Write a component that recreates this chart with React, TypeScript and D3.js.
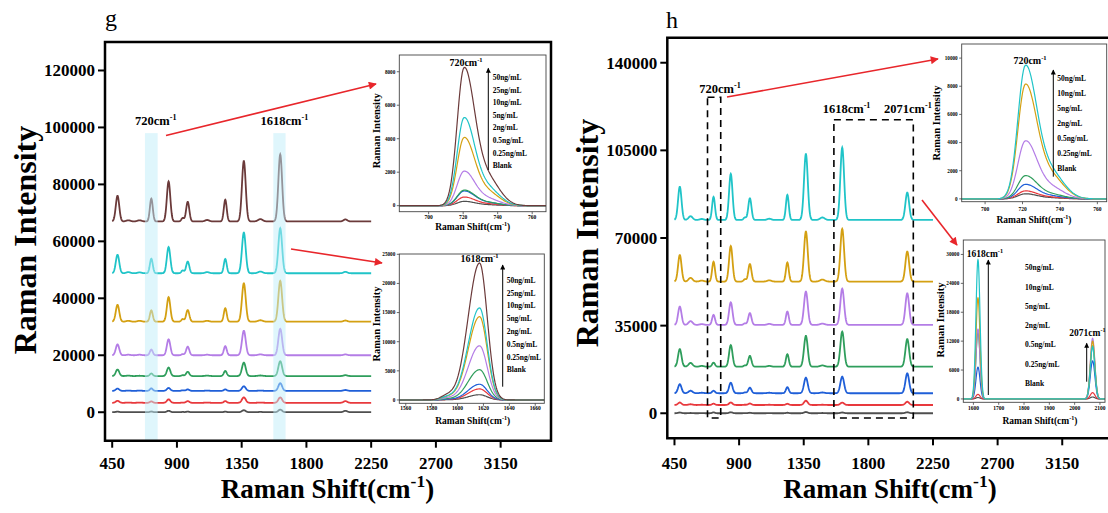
import React from "react";
import * as d3 from "d3";

const FONT = "'Liberation Serif','Times New Roman',Times,serif";

// ---------------- data ----------------
const leftLabels = ["50ng/mL", "25ng/mL", "10ng/mL", "5ng/mL", "2ng/mL", "0.5ng/mL", "0.25ng/mL", "Blank"];
const rightLabels = ["50ng/mL", "10ng/mL", "5ng/mL", "2ng/mL", "0.5ng/mL", "0.25ng/mL", "Blank"];
const leftColors = ["#6b3a3a", "#20c4c8", "#d4a012", "#b47de6", "#2f9e5c", "#1f5fd8", "#e8393d", "#4f4f4f"];
const rightColors = ["#20c4c8", "#d4a012", "#b47de6", "#2f9e5c", "#1f5fd8", "#e8393d", "#4f4f4f"];

// Raman band centres (cm-1) and widths
const peakCenters = [487, 562, 640, 722, 842, 940, 975, 1110, 1236, 1365, 1480, 1618, 2071];
const peakSigmas = [12, 14, 14, 10, 12, 9, 11, 14, 10, 13, 16, 13, 13];

// panel g : vertical offsets and peak heights of each concentration
const leftOffsets = [67000, 48800, 31800, 20000, 12700, 7500, 3300, 0];
const leftPeaks = [
  [9000, 400, 400, 8000, 14000, 1200, 6900, 500, 7600, 21200, 800, 23500, 700],
  [6500, 400, 300, 5100, 9200, 1000, 4100, 400, 5000, 14300, 600, 15800, 500],
  [5900, 300, 300, 3950, 8600, 900, 4100, 300, 4700, 13500, 500, 14300, 400],
  [3800, 200, 200, 2000, 5600, 400, 3000, 200, 3200, 8600, 300, 9300, 300],
  [2300, 150, 100, 900, 3000, 300, 1500, 150, 1800, 4700, 200, 5200, 300],
  [800, 100, 100, 850, 1000, 200, 500, 100, 500, 1600, 100, 2700, 300],
  [700, 100, 100, 500, 1200, 100, 600, 100, 600, 1900, 100, 1900, 600],
  [200, 50, 50, 250, 500, 100, 200, 50, 200, 700, 100, 900, 500],
];

// panel h
const rightOffsets = [77200, 52600, 35300, 18600, 8000, 3300, 0];
const rightPeaks = [
  [13300, 1500, 400, 9200, 18400, 1000, 8700, 500, 10000, 26400, 1000, 28900, 10900],
  [10600, 1500, 400, 7900, 14200, 900, 7000, 500, 7600, 20000, 800, 21000, 12000],
  [7300, 1500, 300, 4000, 9000, 600, 4700, 400, 5300, 13300, 500, 14500, 12600],
  [7000, 1500, 300, 1600, 8600, 500, 4300, 300, 5000, 12300, 500, 14000, 11000],
  [3600, 1000, 200, 1000, 4200, 300, 2200, 200, 2400, 6200, 300, 6600, 7900],
  [1000, 300, 100, 550, 1000, 100, 600, 100, 500, 1700, 100, 950, 1300],
  [300, 100, 50, 350, 400, 50, 200, 50, 200, 500, 100, 300, 400],
];

// band profile used in the zoomed insets (centre, left width, right width, relative height)
const band720Centers = [720.5, 734];
const band720SigL = [4, 7];
const band720SigR = [6, 7];
const band720Rel = [1, 0.2];
const band1618Centers = [1617, 1592];
const band1618SigL = [8.8, 5];
const band1618SigR = [5.9, 5];
const band1618Rel = [1, 0.03];

const xTicksMain = [450, 900, 1350, 1800, 2250, 2700, 3150];
const yTicksLeft = [0, 20000, 40000, 60000, 80000, 100000, 120000];
const yTicksRight = [0, 35000, 70000, 105000, 140000];
const insL1X = [700, 720, 740, 760];
const insL1Y = [0, 2000, 4000, 6000, 8000];
const insL2X = [1560, 1580, 1600, 1620, 1640, 1660];
const insL2Y = [0, 5000, 10000, 15000, 20000, 25000];
const insR1X = [700, 720, 740, 760];
const insR1Y = [0, 2000, 4000, 6000, 8000, 10000];
const insR2X = [1600, 1700, 1800, 1900, 2000, 2100];
const insR2Y = [0, 6000, 12000, 18000, 24000, 30000];

// ---------------- helpers ----------------
function g(x: number, c: number, sl: number, sr: number) {
  const s = x < c ? sl : sr;
  const d = (x - c) / s;
  return Math.exp(-0.5 * d * d);
}

function mainSpectrum(offset: number, heights: number[]) {
  const pts: [number, number][] = [];
  for (let x = 450; x <= 2250; x += 2) {
    let y = offset;
    peakCenters.forEach((c, i) => {
      y += heights[i] * g(x, c, peakSigmas[i], peakSigmas[i]);
    });
    pts.push([x, y]);
  }
  return pts;
}

function bandSpectrum(h: number, cs: number[], sl: number[], sr: number[], rel: number[], x0: number, x1: number, shift = 0) {
  const pts: [number, number][] = [];
  for (let x = x0; x <= x1; x += 0.5) {
    let y = 0;
    cs.forEach((c, i) => {
      y += h * rel[i] * g(x, c + shift, sl[i], sr[i]);
    });
    pts.push([x, y]);
  }
  return pts;
}

function CmText({ x, y, num, size, anchor = "start" }: any) {
  return (
    <text x={x} y={y} fontSize={size} fontWeight="bold" fontFamily={FONT} textAnchor={anchor}>
      {num}cm
      <tspan dy={-size * 0.4} fontSize={size * 0.65}>-1</tspan>
    </text>
  );
}

function ShiftTitle({ x, y, size }: any) {
  return (
    <text x={x} y={y} fontSize={size} fontWeight="bold" fontFamily={FONT} textAnchor="middle">
      Raman Shift(cm
      <tspan dy={-size * 0.4} fontSize={size * 0.65}>-1</tspan>
      <tspan dy={size * 0.4}>)</tspan>
    </text>
  );
}

function InsetAxes({ xs, ys, xTicks, yTicks, xLabOff, id }: any) {
  const [l, r] = xs.range();
  const [b, t] = ys.range();
  return (
    <g>
      <rect x={l} y={t} width={r - l} height={b - t} fill="none" stroke="#444" strokeWidth={0.9} />
      {xTicks.map((v: number) => (
        <g key={"x" + id + v}>
          <line x1={xs(v)} x2={xs(v)} y1={b} y2={b + 2.5} stroke="#444" strokeWidth={0.8} />
          <text x={xs(v)} y={b + xLabOff} fontSize={5.5} fontWeight="bold" fontFamily={FONT} textAnchor="middle">
            {v}
          </text>
        </g>
      ))}
      {yTicks.map((v: number) => (
        <g key={"y" + id + v}>
          <line x1={l - 2.5} x2={l} y1={ys(v)} y2={ys(v)} stroke="#444" strokeWidth={0.8} />
          <text x={l - 4} y={ys(v) + 1.8} fontSize={5.2} fontWeight="bold" fontFamily={FONT} textAnchor="end">
            {v}
          </text>
        </g>
      ))}
    </g>
  );
}

function Legend({ labels, x, y0, dy, size }: any) {
  return (
    <g>
      {labels.map((s: string, i: number) => (
        <text key={s} x={x} y={y0 + i * dy} fontSize={size} fontWeight="bold" fontFamily={FONT}>
          {s}
        </text>
      ))}
    </g>
  );
}

export default function App() {
  // main scales
  const lx = d3.scaleLinear().domain([400, 3500]).range([105, 551]);
  const ly = d3.scaleLinear().domain([-10000, 130000]).range([440.7, 42]);
  const rx = d3.scaleLinear().domain([400, 3500]).range([667.3, 1112.5]);
  const ry = d3.scaleLinear().domain([-10000, 150000]).range([438.3, 37.7]);

  // inset scales
  const l1x = d3.scaleLinear().domain([683, 768]).range([399.3, 546]);
  const l1y = d3.scaleLinear().domain([-360, 9000]).range([211.7, 55]);
  const l2x = d3.scaleLinear().domain([1555, 1667]).range([399.3, 544.3]);
  const l2y = d3.scaleLinear().domain([-570, 25050]).range([403.3, 254]);
  const r1x = d3.scaleLinear().domain([687.5, 765]).range([961.7, 1106.7]);
  const r1y = d3.scaleLinear().domain([-200, 11000]).range([201.7, 44]);
  const r2x = d3.scaleLinear().domain([1560, 2120]).range([963.3, 1105]);
  const r2y = d3.scaleLinear().domain([-700, 33000]).range([402.3, 240]);

  const mk = (xs: any, ys: any) =>
    d3
      .line<[number, number]>()
      .x((d) => xs(d[0]))
      .y((d) => ys(d[1]));

  const lLine = mk(lx, ly);
  const rLine = mk(rx, ry);
  const l1Line = mk(l1x, l1y);
  const l2Line = mk(l2x, l2y);
  const r1Line = mk(r1x, r1y);
  const r2Line = mk(r2x, r2y);

  const order = (n: number) => d3.range(n).reverse();

  const mainAxes = (xs: any, ys: any, yTicks: number[], key: string) => {
    const [l, r] = xs.range();
    const [b, t] = ys.range();
    return (
      <g key={key}>
        <path d={`M${l},${t}H${r}V${b}H${l}Z`} fill="none" stroke="#000" strokeWidth={2.5} />
        {xTicksMain.map((v) => (
          <g key={key + "x" + v}>
            <line x1={xs(v)} x2={xs(v)} y1={b} y2={b + 7} stroke="#000" strokeWidth={2} />
            <text x={xs(v)} y={469} fontSize={17} fontWeight="bold" fontFamily={FONT} textAnchor="middle">
              {v}
            </text>
          </g>
        ))}
        {yTicks.map((v) => (
          <g key={key + "y" + v}>
            <line x1={l - 7} x2={l} y1={ys(v)} y2={ys(v)} stroke="#000" strokeWidth={2} />
            <text x={l - 10} y={ys(v) + 6} fontSize={17} fontWeight="bold" fontFamily={FONT} textAnchor="end">
              {v}
            </text>
          </g>
        ))}
      </g>
    );
  };

  return (
    <svg
      width={1108}
      height={513}
      viewBox="0 0 1108 513"
      style={{ position: "absolute", left: 0, top: 0, background: "#fff" }}
    >
      <defs>
        <marker id="redHead" viewBox="0 0 10 10" refX="9" refY="5" markerWidth="11" markerHeight="8" orient="auto" markerUnits="userSpaceOnUse">
          <path d="M0,0 L10,5 L0,10 z" fill="#e8262b" />
        </marker>
        <marker id="blkHead" viewBox="0 0 10 10" refX="9" refY="5" markerWidth="6" markerHeight="5" orient="auto" markerUnits="userSpaceOnUse">
          <path d="M0,0 L10,5 L0,10 z" fill="#000" />
        </marker>
        <clipPath id="cl1"><rect x={399.3} y={55} width={146.7} height={156.7} /></clipPath>
        <clipPath id="cl2"><rect x={399.3} y={254} width={145} height={149.3} /></clipPath>
        <clipPath id="cr1"><rect x={961.7} y={44} width={145} height={157.7} /></clipPath>
        <clipPath id="cr2"><rect x={963.3} y={240} width={141.7} height={162.3} /></clipPath>
      </defs>

      {/* ---------------- panel g ---------------- */}
      <text x={105} y={26} fontSize={24} fontFamily={FONT}>g</text>
      {order(leftOffsets.length).map((i) => (
        <path key={"ls" + i} d={lLine(mainSpectrum(leftOffsets[i], leftPeaks[i])) || ""} fill="none" stroke={leftColors[i]} strokeWidth={1.8} />
      ))}
      {/* highlight bands */}
      <rect x={lx(678)} y={ly(98000)} width={lx(766) - lx(678)} height={ly(-10000) - ly(98000)} fill="#bfeefa" opacity={0.5} />
      <rect x={lx(1570)} y={ly(98000)} width={lx(1655) - lx(1570)} height={ly(-10000) - ly(98000)} fill="#bfeefa" opacity={0.5} />
      <CmText x={135} y={125} num="720" size={12.5} />
      <CmText x={260.5} y={125} num="1618" size={12.5} />
      {mainAxes(lx, ly, yTicksLeft, "L")}
      <text transform="translate(36,240) rotate(-90)" fontSize={32} fontWeight="bold" fontFamily={FONT} textAnchor="middle">
        Raman Intensity
      </text>
      <ShiftTitle x={327.5} y={498} size={27} />
      <line x1={166} y1={135.5} x2={376} y2={84} stroke="#e8262b" strokeWidth={1.6} markerEnd="url(#redHead)" />
      <line x1={291} y1={249} x2={382} y2={263} stroke="#e8262b" strokeWidth={1.6} markerEnd="url(#redHead)" />

      {/* inset g-1 (720) */}
      <rect x={399.3} y={55} width={146.7} height={156.7} fill="#fff" />
      <g clipPath="url(#cl1)">
        {order(leftOffsets.length).map((i) => (
          <path key={"l1" + i} d={l1Line(bandSpectrum(leftPeaks[i][3], band720Centers, band720SigL, band720SigR, band720Rel, 683, 768)) || ""} fill="none" stroke={leftColors[i]} strokeWidth={1.2} />
        ))}
      </g>
      <InsetAxes xs={l1x} ys={l1y} xTicks={insL1X} yTicks={insL1Y} xLabOff={7.5} id="l1" />
      <CmText x={466} y={66} num="720" size={10} anchor="middle" />
      <line x1={488.3} y1={170} x2={488.3} y2={68.3} stroke="#000" strokeWidth={1} markerEnd="url(#blkHead)" />
      <Legend labels={leftLabels} x={492.7} y0={80} dy={12.6} size={7.5} />
      <text transform="translate(380.3,130.8) rotate(-90)" fontSize={10.5} fontWeight="bold" fontFamily={FONT} textAnchor="middle">
        Raman Intensity
      </text>
      <ShiftTitle x={472.7} y={230} size={9.5} />

      {/* inset g-2 (1618) */}
      <rect x={399.3} y={254} width={145} height={149.3} fill="#fff" />
      <g clipPath="url(#cl2)">
        {order(leftOffsets.length).map((i) => (
          <path key={"l2" + i} d={l2Line(bandSpectrum(leftPeaks[i][11], band1618Centers, band1618SigL, band1618SigR, band1618Rel, 1555, 1667)) || ""} fill="none" stroke={leftColors[i]} strokeWidth={1.2} />
        ))}
      </g>
      <InsetAxes xs={l2x} ys={l2y} xTicks={insL2X} yTicks={insL2Y} xLabOff={7} id="l2" />
      <CmText x={479.5} y={261.7} num="1618" size={10} anchor="middle" />
      <line x1={502.7} y1={386.7} x2={502.7} y2={265} stroke="#000" strokeWidth={1} markerEnd="url(#blkHead)" />
      <Legend labels={leftLabels} x={506.7} y0={282.7} dy={12.8} size={7.5} />
      <text transform="translate(379.7,324) rotate(-90)" fontSize={10.5} fontWeight="bold" fontFamily={FONT} textAnchor="middle">
        Raman Intensity
      </text>
      <ShiftTitle x={472.7} y={423.5} size={9.5} />

      {/* ---------------- panel h ---------------- */}
      <text x={666} y={28} fontSize={24} fontFamily={FONT}>h</text>
      {order(rightOffsets.length).map((i) => (
        <path key={"rs" + i} d={rLine(mainSpectrum(rightOffsets[i], rightPeaks[i])) || ""} fill="none" stroke={rightColors[i]} strokeWidth={1.8} />
      ))}
      {/* dashed boxes */}
      <rect x={rx(680)} y={ry(126200)} width={rx(772) - rx(680)} height={ry(-1900) - ry(126200)} fill="none" stroke="#000" strokeWidth={1.6} strokeDasharray="7,5" />
      <rect x={rx(1560)} y={ry(117200)} width={rx(2113) - rx(1560)} height={ry(-1900) - ry(117200)} fill="none" stroke="#000" strokeWidth={1.6} strokeDasharray="7,5" />
      <CmText x={699.3} y={92.7} num="720" size={12.5} />
      <CmText x={822.7} y={112.7} num="1618" size={12.5} />
      <CmText x={884} y={112.7} num="2071" size={12.5} />
      {mainAxes(rx, ry, yTicksRight, "R")}
      <text transform="translate(598,233) rotate(-90)" fontSize={32} fontWeight="bold" fontFamily={FONT} textAnchor="middle">
        Raman Intensity
      </text>
      <ShiftTitle x={890} y={498} size={27} />
      <line x1={727} y1={97} x2={938} y2={59} stroke="#e8262b" strokeWidth={1.6} markerEnd="url(#redHead)" />
      <line x1={922} y1={200} x2={957} y2={245} stroke="#e8262b" strokeWidth={1.6} markerEnd="url(#redHead)" />

      {/* inset h-1 (720) */}
      <rect x={961.7} y={44} width={145} height={157.7} fill="#fff" />
      <g clipPath="url(#cr1)">
        {order(rightOffsets.length).map((i) => (
          <path key={"r1" + i} d={r1Line(bandSpectrum(rightPeaks[i][3], band720Centers, band720SigL, band720SigR, band720Rel, 687, 765, 1)) || ""} fill="none" stroke={rightColors[i]} strokeWidth={1.2} />
        ))}
      </g>
      <InsetAxes xs={r1x} ys={r1y} xTicks={insR1X} yTicks={insR1Y} xLabOff={9} id="r1" />
      <CmText x={1030} y={64.3} num="720" size={10} anchor="middle" />
      <line x1={1053.3} y1={176.7} x2={1053.3} y2={70} stroke="#000" strokeWidth={1} markerEnd="url(#blkHead)" />
      <Legend labels={rightLabels} x={1057.3} y0={80.8} dy={15} size={7.5} />
      <text transform="translate(940.3,123) rotate(-90)" fontSize={10.5} fontWeight="bold" fontFamily={FONT} textAnchor="middle">
        Raman Intensity
      </text>
      <ShiftTitle x={1034} y={222.5} size={9.5} />

      {/* inset h-2 (1618 / 2071) */}
      <rect x={963.3} y={240} width={141.7} height={162.3} fill="#fff" />
      <g clipPath="url(#cr2)">
        {order(rightOffsets.length).map((i) => (
          <path
            key={"r2" + i}
            d={r2Line(bandSpectrum(1, [1618, 2071], [8, 9], [8, 9], [rightPeaks[i][11], rightPeaks[i][12]], 1560, 2120)) || ""}
            fill="none"
            stroke={rightColors[i]}
            strokeWidth={1.2}
          />
        ))}
      </g>
      <InsetAxes xs={r2x} ys={r2y} xTicks={insR2X} yTicks={insR2Y} xLabOff={7.7} id="r2" />
      <CmText x={966.7} y={256.7} num="1618" size={9.5} />
      <CmText x={1069.3} y={336} num="2071" size={9.5} />
      <line x1={988.3} y1={395} x2={988.3} y2={260} stroke="#000" strokeWidth={1} markerEnd="url(#blkHead)" />
      <line x1={1086.7} y1={381.7} x2={1086.7} y2={343.3} stroke="#000" strokeWidth={1} markerEnd="url(#blkHead)" />
      <Legend labels={rightLabels} x={1025} y0={270.2} dy={19.3} size={7.5} />
      <text transform="translate(943.7,320) rotate(-90)" fontSize={10.5} fontWeight="bold" fontFamily={FONT} textAnchor="middle">
        Raman Intensity
      </text>
      <ShiftTitle x={1040} y={424} size={9.5} />
    </svg>
  );
}
